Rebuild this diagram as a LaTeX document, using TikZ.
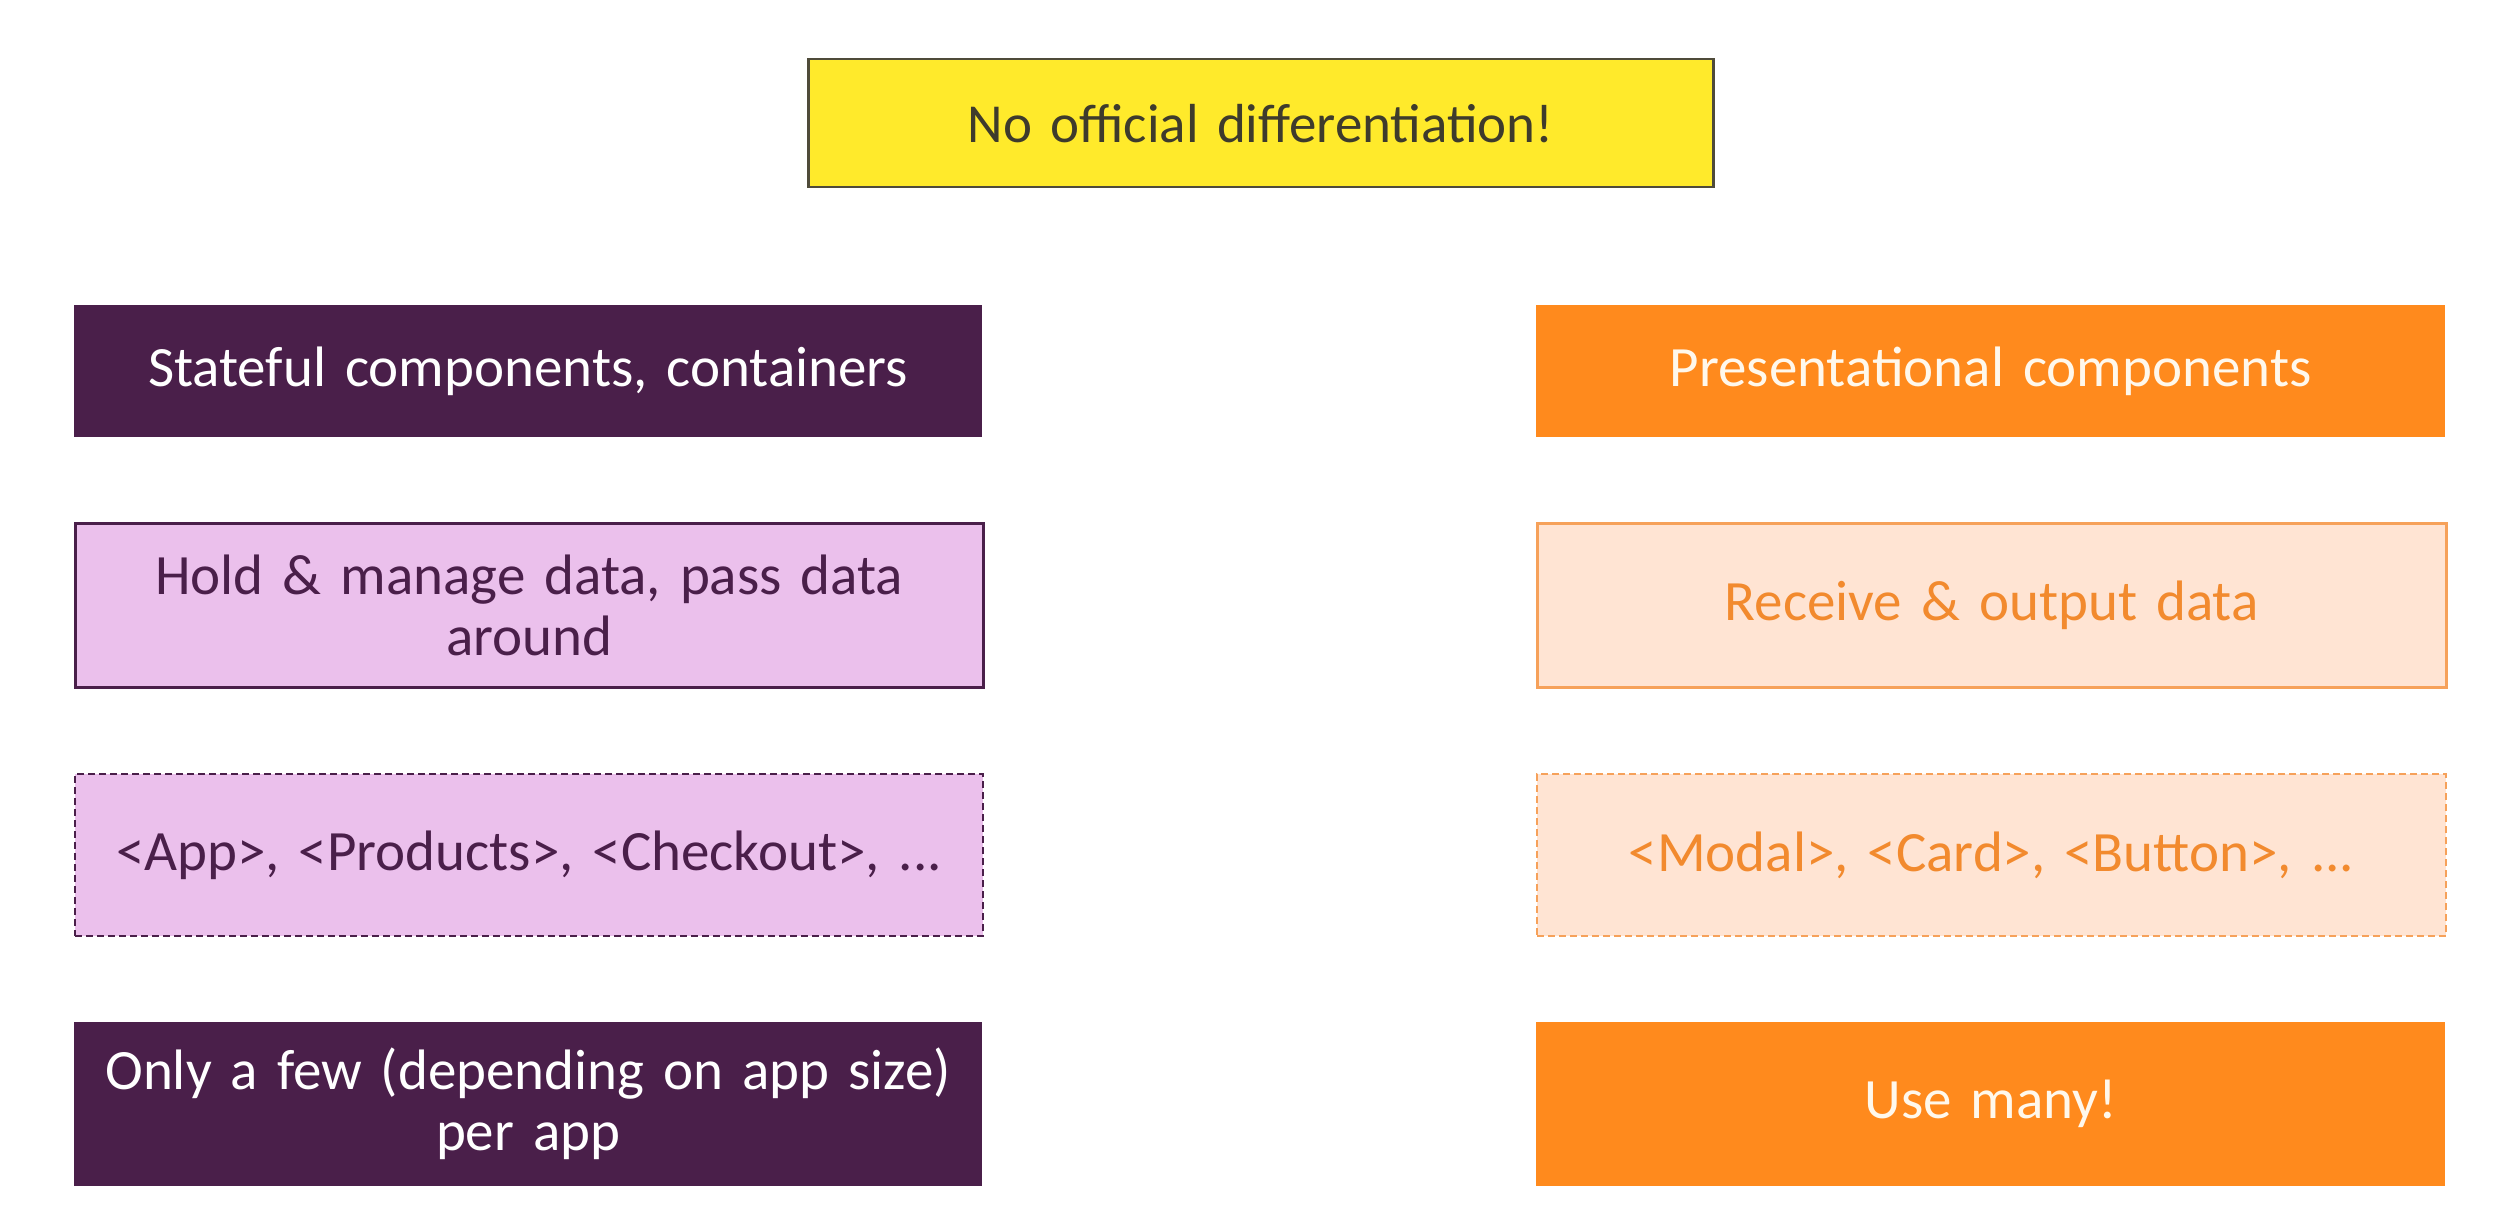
\documentclass[tikz,border=0pt]{standalone}
\usepackage{fontspec}
\setmainfont{Carlito}
\definecolor{hint}{HTML}{FFEA2B}
\definecolor{hintline}{HTML}{4F4B3A}
\definecolor{hinttext}{HTML}{3E3B2C}
\definecolor{plum}{HTML}{4A1F4A}
\definecolor{lilac}{HTML}{EBC0EC}
\definecolor{tang}{HTML}{FF8A1D}
\definecolor{peach}{HTML}{FFE4D3}
\definecolor{peachline}{HTML}{F6A15A}
\definecolor{peachtext}{HTML}{F28A2E}
\definecolor{cream}{HTML}{FFF8EC}
\begin{document}
\begin{tikzpicture}[x=1pt,y=-1pt,
  card/.style={anchor=north west, rectangle, inner sep=0pt, align=center,
    text width=#1, font=\fontsize{57}{61}\selectfont},
  card/.default=880pt,
  darkcard/.style={card, fill=plum, text=white},
  softcard/.style={card, fill=lilac, draw=plum, line width=2.5pt, text=plum},
  hotcard/.style={card, fill=tang, text=cream},
  palecard/.style={card, fill=peach, draw=peachline, line width=2.5pt, text=peachtext},
  dashy/.style={dash pattern=on 7pt off 4pt, line width=2pt},
]
\path[use as bounding box, fill=white] (0,0) rectangle (2520,1206);

% heading
\node[card, fill=hint, draw=hintline, line width=2.5pt, text=hinttext,
  font=\fontsize{55}{61}\selectfont,
  minimum width=905pt, minimum height=128pt] (head) at (807,58)
  {No official differentiation!};

% left column: stateful components
\node[darkcard, minimum width=908pt, minimum height=132pt] (l1) at (74,305)
  {Stateful components, containers};
\node[softcard, minimum width=908pt, minimum height=164pt] (l2) at (74,522)
  {Hold \& manage data, pass data\\around};
\node[softcard, dashy, minimum width=908pt, minimum height=162pt] (l3) at (74,773)
  {<App>, <Products>, <Checkout>, ...};
\node[darkcard, minimum width=908pt, minimum height=164pt] (l4) at (74,1022)
  {Only a few (depending on app size)\\per app};

% right column: presentational components
\node[hotcard, minimum width=909pt, minimum height=132pt] (r1) at (1536,305)
  {Presentational components};
\node[palecard, minimum width=909pt, minimum height=164pt] (r2) at (1536,522)
  {Receive \& output data};
\node[palecard, dashy, minimum width=909pt, minimum height=162pt] (r3) at (1536,773)
  {<Modal>, <Card>, <Button>, ...};
\node[hotcard, minimum width=909pt, minimum height=164pt] (r4) at (1536,1022)
  {Use many!};
\end{tikzpicture}
\end{document}
